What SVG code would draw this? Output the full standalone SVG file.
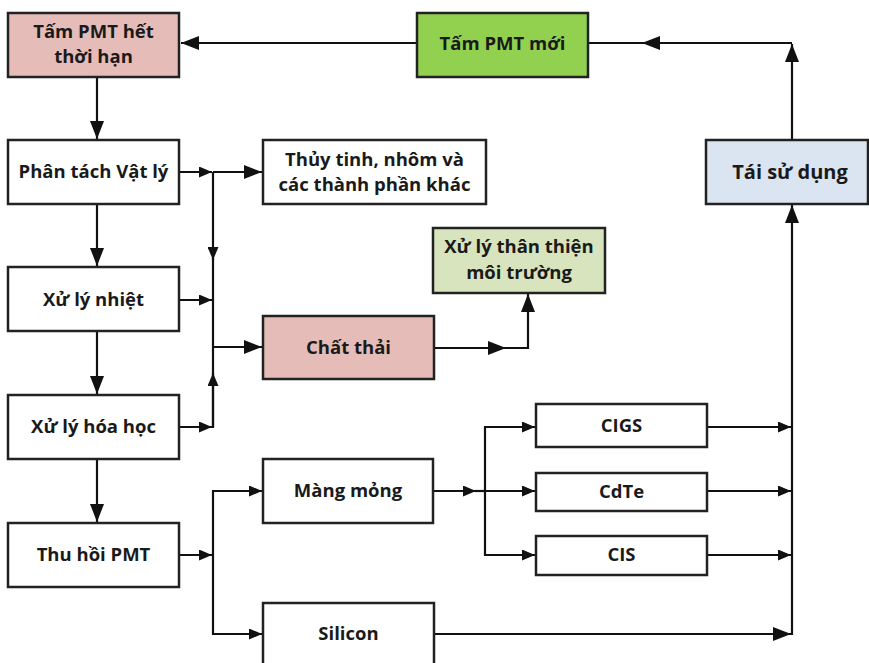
<svg xmlns="http://www.w3.org/2000/svg" width="869" height="663" viewBox="0 0 869 663">
<defs>
<marker id="arr" viewBox="0 0 13 11" refX="13" refY="5.5" markerWidth="13" markerHeight="11" markerUnits="userSpaceOnUse" orient="auto">
<path d="M0,0 L13,5.5 L0,11 z" fill="#111"/>
</marker>
<marker id="arrL" viewBox="0 0 18 14" refX="18" refY="7" markerWidth="18" markerHeight="14" markerUnits="userSpaceOnUse" orient="auto">
<path d="M0,0 L18,7 L0,14 z" fill="#111"/>
</marker>
</defs>
<style>
.box{stroke:#222;stroke-width:2.5;fill:#fff}
.pink{fill:#e6bcb8}
.green{fill:#92d050}
.lgreen{fill:#d7e4bd}
.blue{fill:#dbe5f1}
text{font-family:"Open Sans","Liberation Sans",sans-serif;font-weight:700;font-size:18.5px;fill:#1a1a1a;text-anchor:middle}
.big{font-size:20px}
.c{stroke:#111;stroke-width:2.2;fill:none}
.a{marker-end:url(#arr)}
.al{marker-end:url(#arrL)}
</style>
<rect width="869" height="663" fill="#fff"/>
<g id="connectors">
<line class="c al" x1="417" y1="43" x2="181" y2="43"/>
<line class="c al" x1="792" y1="140" x2="792" y2="44"/>
<line class="c al" x1="792" y1="43" x2="642" y2="43"/>
<line class="c" x1="642" y1="43" x2="588" y2="43"/>
<line class="c al" x1="97" y1="77" x2="97" y2="139"/>
<line class="c al" x1="97" y1="204" x2="97" y2="266"/>
<line class="c al" x1="97" y1="331" x2="97" y2="394"/>
<line class="c al" x1="97" y1="459" x2="97" y2="522"/>
<line class="c a" x1="179" y1="172" x2="212" y2="172"/>
<line class="c al" x1="213" y1="172" x2="262" y2="172"/>
<line class="c a" x1="213" y1="172" x2="213" y2="260"/>
<line class="c" x1="213" y1="258" x2="213" y2="428"/>
<line class="c a" x1="213" y1="427" x2="213" y2="373"/>
<line class="c a" x1="179" y1="300" x2="212" y2="300"/>
<line class="c a" x1="179" y1="427" x2="212" y2="427"/>
<line class="c al" x1="213" y1="347" x2="262" y2="347"/>
<line class="c al" x1="434" y1="348" x2="506" y2="348"/>
<polyline class="c al" points="505,348 528,348 528,294"/>
<line class="c a" x1="179" y1="555" x2="212" y2="555"/>
<line class="c" x1="213" y1="490" x2="213" y2="635"/>
<line class="c a" x1="212" y1="491" x2="262" y2="491"/>
<line class="c a" x1="212" y1="634" x2="262" y2="634"/>
<line class="c a" x1="433" y1="491" x2="476" y2="491"/>
<line class="c" x1="475" y1="491" x2="486" y2="491"/>
<line class="c" x1="485" y1="426" x2="485" y2="556"/>
<line class="c a" x1="484" y1="427" x2="535" y2="427"/>
<line class="c a" x1="485" y1="491" x2="535" y2="491"/>
<line class="c a" x1="484" y1="555" x2="535" y2="555"/>
<line class="c a" x1="707" y1="427" x2="791" y2="427"/>
<line class="c a" x1="707" y1="491" x2="791" y2="491"/>
<line class="c a" x1="707" y1="555" x2="791" y2="555"/>
<line class="c al" x1="434" y1="634" x2="791" y2="634"/>
<line class="c al" x1="792" y1="635" x2="792" y2="205"/>
</g>
<g id="n-tam-het">
<rect class="box pink" x="8" y="13" width="171" height="64"/>
<text x="93.5" y="38">Tấm PMT hết</text>
<text x="93.5" y="63">thời hạn</text>
</g>
<g id="n-tam-moi">
<rect class="box green" x="417" y="13" width="171" height="64"/>
<text x="502.5" y="50">Tấm PMT mới</text>
</g>
<g id="n-phan-tach">
<rect class="box" x="8" y="140" width="171" height="64"/>
<text x="93.5" y="178">Phân tách Vật lý</text>
</g>
<g id="n-thuy-tinh">
<rect class="box" x="263" y="140" width="223" height="64"/>
<text x="374.5" y="166">Thủy tinh, nhôm và</text>
<text x="374.5" y="191">các thành phần khác</text>
</g>
<g id="n-tai-su-dung">
<rect class="box blue" x="706" y="140" width="162" height="64"/>
<text class="big" x="790" y="179">Tái sử dụng</text>
</g>
<g id="n-xu-ly-than-thien">
<rect class="box lgreen" x="433" y="228" width="172" height="65"/>
<text x="519" y="253">Xử lý thân thiện</text>
<text x="519" y="279">môi trường</text>
</g>
<g id="n-nhiet">
<rect class="box" x="8" y="267" width="171" height="64"/>
<text x="93.5" y="306">Xử lý nhiệt</text>
</g>
<g id="n-chat-thai">
<rect class="box pink" x="263" y="316" width="171" height="63"/>
<text x="348.5" y="354">Chất thải</text>
</g>
<g id="n-hoa-hoc">
<rect class="box" x="8" y="395" width="171" height="64"/>
<text x="93.5" y="433">Xử lý hóa học</text>
</g>
<g id="n-cigs">
<rect class="box" x="536" y="404" width="171" height="43"/>
<text x="621.5" y="432">CIGS</text>
</g>
<g id="n-mang-mong">
<rect class="box" x="263" y="459" width="170" height="64"/>
<text x="348" y="497">Màng mỏng</text>
</g>
<g id="n-cdte">
<rect class="box" x="536" y="473" width="171" height="38"/>
<text x="621.5" y="498">CdTe</text>
</g>
<g id="n-thu-hoi">
<rect class="box" x="8" y="523" width="171" height="64"/>
<text x="93.5" y="561">Thu hồi PMT</text>
</g>
<g id="n-cis">
<rect class="box" x="536" y="536" width="171" height="39"/>
<text x="621.5" y="561">CIS</text>
</g>
<g id="n-silicon">
<rect class="box" x="263" y="603" width="171" height="64"/>
<text x="348.5" y="640">Silicon</text>
</g>
</svg>
